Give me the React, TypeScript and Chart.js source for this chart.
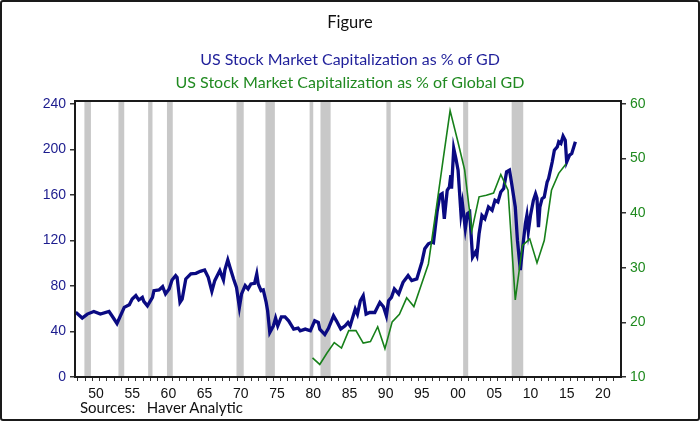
import React, { useEffect, useRef } from 'react';
import { Chart, registerables } from 'chart.js';

Chart.register(...registerables);

// US stock market capitalization as % of GDP (quarterly)
const blueYears = [
  1947.7, 1948.6, 1949.3, 1950.2, 1951.1, 1952.3, 1952.7, 1953.4, 1954.4, 1955.1,
  1955.5, 1956.0, 1956.4, 1956.9, 1957.1, 1957.6, 1958.3, 1958.5, 1959.2, 1959.7,
  1960.1, 1960.6, 1961.0, 1961.5, 1961.7, 1962.1, 1962.4, 1962.9, 1963.6, 1964.3,
  1964.9, 1965.5, 1966.0, 1966.5, 1966.9, 1967.6, 1968.1, 1968.3, 1968.7, 1969.0,
  1969.5, 1969.9, 1970.3, 1970.6, 1971.1, 1971.5, 1971.9, 1972.4, 1972.7, 1972.9,
  1973.3, 1973.6, 1974.0, 1974.2, 1974.5, 1975.0, 1975.3, 1975.6, 1976.1, 1976.6,
  1977.1, 1977.8, 1978.4, 1978.7, 1979.4, 1980.1, 1980.7, 1981.2, 1981.4, 1982.1,
  1982.6, 1983.3, 1983.7, 1984.3, 1984.9, 1985.3, 1985.6, 1986.3, 1986.6, 1987.0,
  1987.4, 1987.8, 1988.3, 1989.0, 1989.7, 1990.2, 1990.6, 1990.9, 1991.3, 1991.7,
  1992.3, 1992.9, 1993.6, 1994.1, 1994.8, 1995.5, 1995.9, 1996.4, 1996.9, 1997.1,
  1997.6, 1998.0, 1998.3, 1998.6, 1999.0, 1999.3, 1999.5, 1999.6, 1999.9, 2000.2,
  2000.5, 2000.9, 2001.1, 2001.5, 2001.8, 2002.1, 2002.5, 2002.9, 2003.1, 2003.4,
  2003.8, 2004.2, 2004.7, 2005.2, 2005.6, 2006.0, 2006.4, 2006.8, 2007.2, 2007.6,
  2007.9, 2008.4, 2008.7, 2009.1, 2009.4, 2009.8, 2010.0, 2010.2, 2010.5, 2010.9,
  2011.2, 2011.4, 2011.6, 2011.8, 2012.1, 2012.4, 2012.8, 2013.0, 2013.5, 2013.8,
  2014.2, 2014.4, 2014.7, 2015.0, 2015.3, 2015.5, 2015.9, 2016.2, 2016.7,
];
const blueValues = [
  57, 51.8, 55.3, 57.6, 55.3, 57.6, 53.8, 47, 61.2, 63.5,
  68.5, 71.5, 67.7, 70, 66.5, 62.6, 70, 75.9, 76.5, 79.4,
  73, 77.4, 85.3, 89.1, 87.6, 65.6, 68.5, 86.2, 90.6, 91.1,
  92.9, 94.1, 87.6, 75.3, 84.7, 93.5, 85.3, 94.1, 103, 96.5,
  86.2, 78.8, 61.2, 73, 80.3, 77.4, 81.8, 82.4, 90.6, 81.8,
  75.9, 76.5, 65.6, 58.2, 39.1, 45, 51.8, 45, 52.9, 52.9,
  49.4, 42.1, 43, 40.6, 42.1, 40.6, 49.4, 47.9, 42.1, 37.3,
  42.8, 53.8, 49.4, 42.1, 45, 47.9, 45, 59.7, 55.3, 67,
  71.5, 55.3, 56.7, 56.7, 65.6, 61.8, 53.8, 67, 70, 77.4,
  73, 83.2, 89.1, 84.7, 86.2, 100.9, 112.7, 117.1, 118.5, 118,
  145, 160, 161.2, 139.1, 164, 167, 177.4, 165.6, 200.9, 192,
  181.8, 143.5, 152.4, 130.3, 143.5, 145, 105.3, 109.7, 106.8, 125.9,
  142, 139.1, 149.4, 146.5, 155.3, 153.8, 162.6, 165.6, 180.3, 181.8,
  170, 149.4, 120, 94, 112.7, 135, 142, 128, 142, 155.3,
  161, 157, 131.7, 149.4, 156.8, 158.2, 171.4, 174.4, 189, 199.4,
  202.3, 206.7, 205.3, 211.8, 208.2, 189, 195, 196.5, 206.7,
];

// US stock market capitalization as % of global GDP (annual)
const greenYears = [
  1980.4, 1981.4, 1982.4, 1983.4, 1984.4, 1985.4, 1986.4, 1987.4, 1988.4, 1989.4,
  1990.4, 1991.4, 1992.4, 1993.4, 1994.4, 1995.4, 1996.4, 1997.4, 1998.4, 1999.4,
  2000.4, 2001.4, 2002.4, 2003.4, 2004.4, 2005.4, 2006.4, 2007.4, 2008.4, 2009.4,
  2010.4, 2011.4, 2012.4, 2013.4, 2014.4, 2015.4,
];
const greenValues = [
  13.5, 12.3, 14.4, 16.3, 15.3, 18.5, 18.5, 16.2, 16.5, 19.2,
  15.2, 20.1, 21.5, 24.5, 22.9, 26.8, 30.7, 40, 49.5, 58.8,
  53.5, 48, 36.8, 43, 43.3, 43.7, 47.1, 44.2, 24.1, 34.1,
  35.3, 30.9, 35, 44.2, 47.3, 49,
];

// NBER recessions
const recessionStarts = [1948.9, 1953.6, 1957.7, 1960.3, 1969.9, 1973.9, 1980.0, 1981.5, 1990.6, 2001.2, 2007.9];
const recessionEnds = [1949.8, 1954.4, 1958.3, 1961.1, 1970.9, 1975.2, 1980.5, 1982.9, 1991.2, 2001.9, 2009.5];

const leftTicks = [0, 40, 80, 120, 160, 200, 240];
const rightTicks = [10, 20, 30, 40, 50, 60];
const firstTickYear = 1948;
const lastTickYear = 2022;

const titleMain = 'Figure';
const titleBlue = 'US Stock Market Capitalization as % of GD';
const titleGreen = 'US Stock Market Capitalization as % of Global GD';
const sourceText = 'Sources:   Haver Analytic';

const BLUE = '#0a0a82';
const GREEN = '#17801a';

export default function App() {
  const canvasRef = useRef<HTMLCanvasElement | null>(null);

  useEffect(() => {
    const canvas = canvasRef.current;
    if (!canvas) return;

    const bandsPlugin = {
      id: 'bands',
      beforeDatasetsDraw(chart: any) {
        const { ctx, chartArea, scales } = chart;
        const x = scales.x;
        ctx.save();
        ctx.fillStyle = '#c8c8c8';
        for (let i = 0; i < recessionStarts.length; i++) {
          const x0 = x.getPixelForValue(recessionStarts[i]);
          const x1 = x.getPixelForValue(recessionEnds[i]);
          ctx.fillRect(x0, chartArea.top, x1 - x0, chartArea.bottom - chartArea.top);
        }
        ctx.restore();
      },
      afterDraw(chart: any) {
        const { ctx, chartArea } = chart;
        ctx.save();
        ctx.strokeStyle = '#1a1a1a';
        ctx.lineWidth = 2;
        ctx.strokeRect(chartArea.left, chartArea.top, chartArea.right - chartArea.left, chartArea.bottom - chartArea.top);
        ctx.restore();
      },
    };

    const tickFont = { family: '"Liberation Sans", Arial, sans-serif', size: 14 };

    const chart = new Chart(canvas, {
      type: 'line',
      data: {
        datasets: [
          {
            label: titleGreen,
            data: greenYears.map((y, i) => ({ x: y, y: greenValues[i] })),
            yAxisID: 'y1',
            borderColor: GREEN,
            borderWidth: 1.6,
            pointRadius: 0,
            tension: 0,
          },
          {
            label: titleBlue,
            data: blueYears.map((y, i) => ({ x: y, y: blueValues[i] })),
            yAxisID: 'y',
            borderColor: BLUE,
            borderWidth: 3.3,
            pointRadius: 0,
            tension: 0,
          },
        ],
      },
      options: {
        animation: false,
        responsive: false,
        maintainAspectRatio: false,
        layout: { padding: { top: 101, left: 0, right: 0, bottom: 0 } },
        plugins: {
          legend: { display: false },
          tooltip: { enabled: false },
          title: { display: false },
        },
        scales: {
          x: {
            type: 'linear',
            min: 1947.6,
            max: 2023,
            afterBuildTicks(scale: any) {
              const t = [];
              for (let v = firstTickYear; v <= lastTickYear; v++) t.push({ value: v });
              scale.ticks = t;
            },
            afterFit(scale: any) {
              scale.height = 44;
            },
            ticks: {
              autoSkip: false,
              maxRotation: 0,
              minRotation: 0,
              labelOffset: 3.6,
              padding: 5,
              color: '#111',
              font: tickFont,
              callback: (v: any) => {
                const n = Math.round(Number(v));
                return n % 5 === 0 ? String(n % 100).padStart(2, '0') : '';
              },
            },
            grid: {
              drawOnChartArea: false,
              drawTicks: true,
              tickLength: 4,
              color: '#333',
            },
            border: { display: true, color: '#1a1a1a', width: 2 },
          },
          y: {
            type: 'linear',
            position: 'left',
            min: 0,
            max: 242.6,
            afterBuildTicks(scale: any) {
              scale.ticks = leftTicks.map((v) => ({ value: v }));
            },
            afterFit(scale: any) {
              scale.width = 75;
            },
            ticks: { color: '#1c1c8e', font: tickFont, padding: 4 },
            grid: { drawOnChartArea: false, tickLength: 5, color: '#333', lineWidth: 1.5 },
            border: { display: true, color: '#1a1a1a', width: 2 },
          },
          y1: {
            type: 'linear',
            position: 'right',
            min: 10,
            max: 60.55,
            afterBuildTicks(scale: any) {
              scale.ticks = rightTicks.map((v) => ({ value: v }));
            },
            afterFit(scale: any) {
              scale.width = 79;
            },
            ticks: { color: '#1f8a1f', font: tickFont, padding: 4 },
            grid: { drawOnChartArea: false, tickLength: 5, color: '#333', lineWidth: 1.5 },
            border: { display: true, color: '#1a1a1a', width: 2 },
          },
        },
      },
      plugins: [bandsPlugin],
    } as any);

    return () => chart.destroy();
  }, []);

  const titleFont = 'Lato, "Open Sans", sans-serif';

  return (
    <div
      style={{
        position: 'fixed',
        left: 0,
        top: 0,
        width: 700,
        height: 421,
        background: '#fff',
        overflow: 'hidden',
      }}
    >
      <canvas ref={canvasRef} width={700} height={421} style={{ position: 'absolute', left: 0, top: 0, width: 700, height: 421 }} />
      <div style={{ position: 'absolute', left: 0, width: 700, top: 12, textAlign: 'center', font: `16.5px ${titleFont}`, lineHeight: '20px', color: '#111' }}>
        {titleMain}
      </div>
      <div style={{ position: 'absolute', left: 0, width: 700, top: 49, textAlign: 'center', font: `16px ${titleFont}`, lineHeight: '20px', color: '#1f1f9a' }}>
        {titleBlue}
      </div>
      <div style={{ position: 'absolute', left: 0, width: 700, top: 72, textAlign: 'center', font: `16px ${titleFont}`, lineHeight: '20px', color: '#218a21' }}>
        {titleGreen}
      </div>
      <div style={{ position: 'absolute', left: 80, top: 397, font: `15px ${titleFont}`, lineHeight: '20px', color: '#111', whiteSpace: 'pre' }}>
        {sourceText}
      </div>
      <div
        style={{
          position: 'absolute',
          left: 0,
          top: 0,
          width: 700,
          height: 421,
          boxSizing: 'border-box',
          border: '2px solid #1a1a1a',
          borderRadius: 3,
          pointerEvents: 'none',
        }}
      />
    </div>
  );
}
